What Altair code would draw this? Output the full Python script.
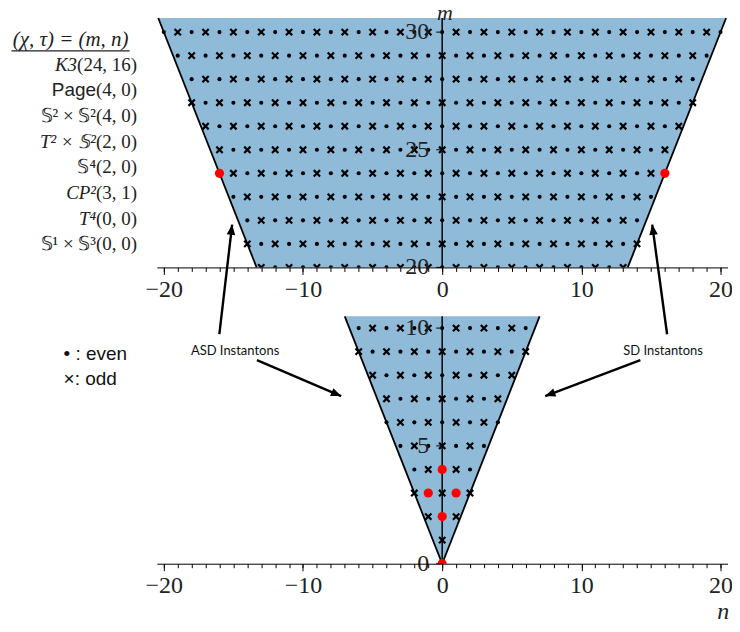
import math
import altair as alt
import pandas as pd

# ---------------- data ----------------
# lattice rows (m = chi) and the largest |n| (= tau) inside the cone for each row
top_rows_m = [20, 21, 22, 23, 24, 25, 26, 27, 28, 29, 30]
top_rows_nmax = [13, 14, 14, 15, 16, 16, 17, 18, 18, 19, 20]
bottom_rows_m = [1, 2, 3, 4, 5, 6, 7, 8, 9, 10]
bottom_rows_nmax = [0, 1, 2, 2, 3, 4, 4, 5, 6, 6]

manifold_names = ["K3", "Page", "𝕊² × 𝕊²", "T² × 𝕊²", "𝕊⁴", "CP²", "T⁴", "𝕊¹ × 𝕊³"]
manifold_name_style = ["italic", "sans", "normal", "italic", "normal", "italic", "italic", "normal"]
manifold_chi = [24, 4, 4, 2, 2, 3, 0, 0]
manifold_tau = [16, 0, 0, 0, 0, 1, 0, 0]

header_text = "(χ, τ) = (m, n)"
legend_labels = ["•  :  even", "×:  odd"]
annotation_labels = ["ASD Instantons", "SD Instantons"]

x_tick_values = [-20, -10, 0, 10, 20]
x_minor_values = list(range(-20, 21))
top_y_ticks = [20, 25, 30]
bottom_y_ticks = [0, 5, 10]

cone_ratio = 2 / 3            # cone boundary |n| = 2m/3
n_range = [-20.5, 20.5]
top_m_range = [20, 30.6]
bottom_m_range = [0, 10.5]

# ---------------- layout / style ----------------
W = 572
H_TOP = 250
H_BOT = 248
SX = W / (n_range[1] - n_range[0])
SY_TOP = H_TOP / (top_m_range[1] - top_m_range[0])
BLUE = "#8fbbd9"
SERIF = "Liberation Serif"
SANS = "Liberation Sans"
TXT = "#222"
CROSS = "M-1,-1L1,1M-1,1L1,-1"
ARROW = "M0,0L-0.42,1L0.42,1Z"
Y_TICK_LEN = 6 / SX          # 6 px tick, expressed in n units
Y_LABEL_GAP = 13 / SX        # tick + padding
LIST_FS = 19
# Liberation Serif advance widths (em) for the "(χ, τ)" part of the list
SERIF_EM = {"(": 0.333, ")": 0.333, ",": 0.25, " ": 0.25}


def lattice(rows_m, rows_nmax):
    recs = []
    for m, nmax in zip(rows_m, rows_nmax):
        for n in range(-nmax, nmax + 1):
            recs.append({"n": n, "m": m, "parity": "even" if (m + n) % 2 == 0 else "odd"})
    return pd.DataFrame(recs)


def red_points(lo, hi):
    pts = set()
    for c, t in zip(manifold_chi, manifold_tau):
        if lo <= c <= hi:
            pts.add((t, c))
            pts.add((-t, c))
    return pd.DataFrame(sorted(pts), columns=["n", "m"])


def xy(xs, ys, xf="n", yf="m", xaxis=None):
    return dict(x=alt.X(f"{xf}:Q", scale=xs, axis=xaxis), y=alt.Y(f"{yf}:Q", scale=ys, axis=None))


def panel(rows_m, rows_nmax, m_range, y_ticks, height, extra):
    xs = alt.Scale(domain=n_range, nice=False, zero=False)
    ys = alt.Scale(domain=m_range, nice=False, zero=False)
    x_major = alt.Axis(values=x_tick_values, orient="bottom", title=None, grid=False,
                       labelFont=SERIF, labelFontSize=24, labelColor=TXT,
                       labelPadding=3, tickSize=7, tickColor="black", tickWidth=1,
                       domainColor="black", domainWidth=1, labelFlush=False, zindex=1)
    x_minor = alt.Axis(values=x_minor_values, orient="bottom", title=None, grid=False,
                       labels=False, domain=False, tickSize=4, tickColor="black",
                       tickWidth=1, zindex=1)

    m0, m1 = m_range
    cone = pd.DataFrame({"m": m_range,
                         "lo": [-cone_ratio * m for m in m_range],
                         "hi": [cone_ratio * m for m in m_range]})
    area = alt.Chart(cone).mark_area(orient="horizontal", color=BLUE, opacity=1).encode(
        y=alt.Y("m:Q", scale=ys, axis=None),
        x=alt.X("lo:Q", scale=xs, axis=x_major),
        x2="hi:Q")

    edges = pd.DataFrame({"n1": [-cone_ratio * m0, cone_ratio * m0],
                          "m1": [m0, m0],
                          "n2": [-cone_ratio * m1, cone_ratio * m1],
                          "m2": [m1, m1]})
    edge = alt.Chart(edges).mark_rule(color="black", strokeWidth=1.8).encode(
        **xy(xs, ys, "n1", "m1"), x2="n2:Q", y2="m2:Q")

    lat = lattice(rows_m, rows_nmax)
    dots = alt.Chart(lat[lat.parity == "even"]).mark_point(
        shape="circle", filled=True, size=17, color="black", opacity=1, clip=True
    ).encode(**xy(xs, ys, xaxis=x_minor))
    crosses = alt.Chart(lat[lat.parity == "odd"]).mark_point(
        shape=CROSS, filled=False, size=40, color="black", strokeWidth=2.2, opacity=1, clip=True
    ).encode(**xy(xs, ys))

    # y axis drawn through the middle of the panel (spine at n = 0)
    spine = alt.Chart(pd.DataFrame({"n": [0], "m": [m0], "m2": [m1]})).mark_rule(
        color="black", strokeWidth=1.5).encode(**xy(xs, ys), y2="m2:Q")
    tick_df = pd.DataFrame({"n": [-Y_TICK_LEN] * len(y_ticks), "n2": [0] * len(y_ticks),
                            "m": y_ticks, "lab": [str(v) for v in y_ticks],
                            "nl": [-Y_LABEL_GAP] * len(y_ticks)})
    yticks = alt.Chart(tick_df).mark_rule(color="black", strokeWidth=1).encode(
        **xy(xs, ys), x2="n2:Q")
    ylabels = alt.Chart(tick_df).mark_text(align="right", baseline="middle", font=SERIF,
                                           fontSize=24, color=TXT).encode(
        **xy(xs, ys, "nl", "m"), text="lab:N")

    red = alt.Chart(red_points(m0, m1)).mark_point(
        shape="circle", filled=True, size=85, color="#ff0000", opacity=1, clip=True
    ).encode(**xy(xs, ys))

    layers = [area, edge, dots, crosses, spine, yticks, ylabels, red] + [f(xs, ys) for f in extra]
    return alt.layer(*layers).properties(width=W, height=height).resolve_axis(x="independent")


# ---------------- annotations (data coordinates of the top panel) ----------------
def header_layer(xs, ys):
    df = pd.DataFrame({"n": [-30.85], "m": [29.67], "label": [header_text]})
    return alt.Chart(df).mark_text(align="left", baseline="middle", font=SERIF,
                                   fontSize=21, fontStyle="italic", color=TXT).encode(
        **xy(xs, ys), text="label:N")


def underline_layer(xs, ys):
    df = pd.DataFrame({"n1": [-30.95], "n2": [-22.45], "m": [29.2]})
    return alt.Chart(df).mark_rule(color=TXT, strokeWidth=1.2).encode(
        **xy(xs, ys, "n1", "m"), x2="n2:Q")


def list_frame():
    first, step, right = 28.61, 1.09, -21.92
    rows = []
    for i, (nm, st, c, t) in enumerate(zip(manifold_names, manifold_name_style,
                                            manifold_chi, manifold_tau)):
        pair = f"({c}, {t})"
        w_px = sum(SERIF_EM.get(ch, 0.5) for ch in pair) * LIST_FS
        rows.append({"m": first - i * step, "pair": pair, "name": nm, "style": st,
                     "n_pair": right, "n_name": right - w_px / SX})
    return pd.DataFrame(rows)


def list_pair_layer(xs, ys):
    return alt.Chart(list_frame()).mark_text(
        align="right", baseline="middle", font=SERIF, fontSize=LIST_FS, color=TXT
    ).encode(**xy(xs, ys, "n_pair", "m"), text="pair:N")


def list_name_layers():
    def make(style, font, fstyle):
        def f(xs, ys):
            df = list_frame()
            df = df[df["style"] == style]
            return alt.Chart(df).mark_text(
                align="right", baseline="middle", font=font, fontSize=LIST_FS,
                fontStyle=fstyle, color=TXT
            ).encode(**xy(xs, ys, "n_name", "m"), text="name:N")
        return f
    return [make("italic", SERIF, "italic"), make("normal", SERIF, "normal"),
            make("sans", SANS, "normal")]


def legend_layer(xs, ys):
    df = pd.DataFrame({"n": [-27.2, -27.2], "m": [16.31, 15.25], "label": legend_labels})
    return alt.Chart(df).mark_text(align="left", baseline="middle", font=SANS,
                                   fontSize=19, color="#111").encode(**xy(xs, ys), text="label:N")


def annot_text_layer(xs, ys):
    df = pd.DataFrame({"n": [-14.88, 15.87], "m": [16.44, 16.44], "label": annotation_labels})
    return alt.Chart(df).mark_text(align="center", baseline="middle", font="Lato",
                                   fontSize=13, color="#111").encode(**xy(xs, ys), text="label:N")


arrow_tail_n = [-16.01, -13.31, 16.16, 14.24]
arrow_tail_m = [17.16, 16.06, 17.16, 16.06]
arrow_head_n = [-15.09, -7.26, 15.09, 7.40]
arrow_head_m = [21.82, 14.53, 21.82, 14.53]


def arrows_df():
    ang = []
    for tn, tm, hn, hm in zip(arrow_tail_n, arrow_tail_m, arrow_head_n, arrow_head_m):
        dx = (hn - tn) * SX
        dy = -(hm - tm) * SY_TOP
        ang.append(math.degrees(math.atan2(dx, -dy)) % 360)
    return pd.DataFrame({"tn": arrow_tail_n, "tm": arrow_tail_m,
                         "hn": arrow_head_n, "hm": arrow_head_m, "ang": ang})


def arrow_shaft_layer(xs, ys):
    return alt.Chart(arrows_df()).mark_rule(color="black", strokeWidth=2.4).encode(
        **xy(xs, ys, "tn", "tm"), x2="hn:Q", y2="hm:Q")


def arrow_head_layer(xs, ys):
    return alt.Chart(arrows_df()).mark_point(
        shape=ARROW, filled=True, size=420, color="black", opacity=1, strokeWidth=0
    ).encode(**xy(xs, ys, "hn", "hm"), angle=alt.Angle("ang:Q", scale=None))


def m_label_layer(xs, ys):
    df = pd.DataFrame({"n": [0.2], "m": [30.515], "label": ["m"]})
    return alt.Chart(df).mark_text(align="center", baseline="alphabetic", font=SERIF,
                                   fontSize=22, fontStyle="italic", color=TXT).encode(
        **xy(xs, ys), text="label:N")


def n_label_layer(xs, ys):
    df = pd.DataFrame({"n": [20.2], "m": [-2.35], "label": ["n"]})
    return alt.Chart(df).mark_text(align="center", baseline="alphabetic", font=SERIF,
                                   fontSize=24, fontStyle="italic", color=TXT).encode(
        **xy(xs, ys), text="label:N")


top = panel(top_rows_m, top_rows_nmax, top_m_range, top_y_ticks, H_TOP,
            [underline_layer, header_layer, list_pair_layer] + list_name_layers() +
            [legend_layer, annot_text_layer, arrow_shaft_layer, arrow_head_layer,
             m_label_layer])
bottom = panel(bottom_rows_m, bottom_rows_nmax, bottom_m_range, bottom_y_ticks, H_BOT,
               [n_label_layer])

chart = alt.vconcat(top, bottom, spacing=49, bounds="flush").resolve_scale(
    x="independent", y="independent"
).properties(
    padding={"left": 2.2, "top": -6.7, "right": -1.5, "bottom": -2},
    background="white",
).configure_view(stroke=None)

chart.save("out.html", embed_options={"renderer": "svg", "actions": False})
